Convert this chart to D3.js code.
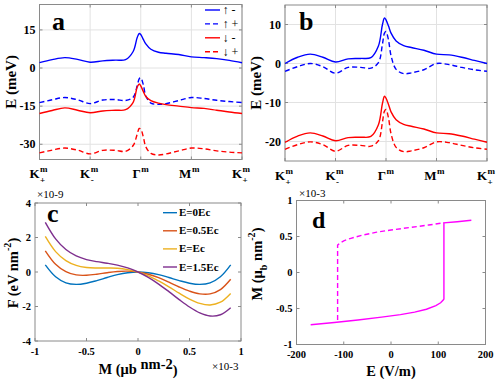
<!DOCTYPE html>
<html>
<head>
<meta charset="utf-8">
<script src="https://cdn.jsdelivr.net/npm/d3@7"></script>
<style>
body { margin: 0; background: #fff; }
svg { display: block; }
text { font-family: "Liberation Serif", "Times New Roman", serif; }
</style>
</head>
<body>
<svg width="498" height="385"></svg>
<script>
// ---- data ----
// panels a & b: band energies along K+ -> K- -> Gamma -> M -> K+ (path coordinate 0..4)
var kPos = [0, 0.25, 0.5, 0.75, 1, 1.25, 1.5, 1.7, 1.85, 1.93, 1.97, 2.0, 2.05, 2.1, 2.2, 2.35, 2.5, 2.75, 3, 3.25, 3.5, 3.75, 4];
var kTickMain = ["K", "K", "\u0393", "M", "K"];
var kTickSub = ["+", "-", "", "", "+"];

var aUpMinus   = [2.1, 3.3, 4.1, 3.4, 2.3, 2.8, 3.1, 3.3, 6.5, 12, 13.6, 13.2, 11.3, 9.5, 7.4, 6.2, 5.8, 5.3, 4.4, 4.1, 3.7, 3.0, 2.1];
var aUpPlus    = [-13.6, -12.5, -11.6, -12.5, -14.0, -12.6, -12.4, -12.8, -11.5, -7, -4.2, -3.9, -6.5, -11, -13.8, -14.3, -14.0, -12.8, -11.6, -12.0, -12.7, -13.2, -13.6];
var aDownMinus = [-17.9, -16.7, -15.7, -16.6, -17.6, -16.9, -16.6, -16.4, -13.5, -7.5, -6.3, -7.0, -9.2, -11.2, -12.8, -13.8, -14.4, -15.0, -15.6, -15.9, -16.6, -17.3, -17.9];
var aDownPlus  = [-33.4, -32.3, -31.5, -32.3, -33.8, -32.4, -32.4, -32.8, -30.5, -26, -23.8, -24.0, -27, -31, -33.6, -34.2, -33.8, -32.6, -31.5, -31.8, -32.6, -33.1, -33.4];

var bUpMinus   = [0, 1.6, 2.4, 1.6, 0.4, 1.2, 1.3, 1.5, 4.5, 10, 11.7, 11.2, 9.6, 7.8, 5.8, 4.6, 4.1, 3.4, 2.4, 2.2, 1.6, 0.8, 0];
var bUpPlus    = [-2, -0.8, 0, -0.8, -2.5, -1.0, -1.0, -1.2, 0.2, 5, 7.8, 8.2, 6.0, 2, -1.5, -2.6, -2.4, -1.6, 0, -0.3, -1.0, -1.6, -2];
var bDownMinus = [-20.2, -18.6, -17.8, -18.6, -19.8, -19.0, -18.9, -18.7, -15.7, -10.2, -8.4, -8.9, -10.5, -12.4, -14.4, -15.6, -16.1, -16.8, -17.8, -18.0, -18.6, -19.4, -20.2];
var bDownPlus  = [-22, -20.8, -20.1, -20.8, -22.5, -21.0, -21.0, -21.2, -19.8, -15, -12.2, -11.8, -14, -18, -21.5, -22.6, -22.4, -21.6, -20.1, -20.3, -21.0, -21.6, -22];

var bandLegend = ["\u2191 -", "\u2191 +", "\u2193 -", "\u2193 +"];

// panel c: free energy F (x1e-9) vs M (x1e-3)
var mVals = [-0.9, -0.8, -0.7, -0.6, -0.5, -0.4, -0.3, -0.2, -0.1, 0, 0.1, 0.2, 0.3, 0.4, 0.5, 0.6, 0.7, 0.8, 0.9];
var fE0   = [0.41, -0.28, -0.63, -0.72, -0.65, -0.50, -0.32, -0.15, -0.04, 0, -0.04, -0.15, -0.32, -0.50, -0.65, -0.72, -0.63, -0.28, 0.41];
var fE05  = [1.23, 0.45, 0.02, -0.17, -0.19, -0.13, -0.04, 0.03, 0.05, 0, -0.13, -0.33, -0.59, -0.87, -1.11, -1.27, -1.27, -1.02, -0.42];
var fE1   = [2.06, 1.18, 0.66, 0.38, 0.26, 0.23, 0.23, 0.22, 0.14, 0, -0.22, -0.52, -0.86, -1.23, -1.57, -1.82, -1.91, -1.75, -1.24];
var fE15  = [2.88, 1.92, 1.30, 0.93, 0.72, 0.60, 0.51, 0.40, 0.24, 0, -0.31, -0.70, -1.14, -1.60, -2.03, -2.37, -2.55, -2.48, -2.07];
var fLegendCoef = ["0", "0.5", "", "1.5"];

// panel d: hysteresis M (x1e-3) vs E (V/m)
var dSolidE = [-170, -120, -70, -20, 20, 50, 75, 95, 105, 111, 112, 112, 140, 170];
var dSolidM = [-0.725, -0.695, -0.66, -0.62, -0.585, -0.55, -0.51, -0.46, -0.42, -0.38, -0.37, 0.69, 0.705, 0.725];
var dDashE = [-113, -113, -108, -100, -85, -60, -30, 0, 40, 80, 112];
var dDashM = [-0.66, 0.38, 0.41, 0.44, 0.475, 0.52, 0.56, 0.59, 0.625, 0.66, 0.69];

// ---- drawing ----
const svg = d3.select("svg");
const boxColor = "#8a8a8a";
const gridColor = "#e2e2e2";
const bandColors = ["#0000ff", "#0000ff", "#ff0000", "#ff0000"];
const bandDash = [null, "5,3", null, "5,3"];
const fColors = ["#0072BD", "#D95319", "#EDB120", "#7E2F8E"];

function axesFrame(x, y, xt, yt, grid) {
    var g = svg.append("g");
    var [x0, x1] = x.range(), [y0, y1] = y.range();
    if (grid) {
        g.selectAll(".gx").data(xt).join("line")
            .attr("x1", d => x(d)).attr("x2", d => x(d))
            .attr("y1", y0).attr("y2", y1)
            .attr("stroke", gridColor).attr("stroke-width", 1);
        g.selectAll(".gy").data(yt).join("line")
            .attr("y1", d => y(d)).attr("y2", d => y(d))
            .attr("x1", x0).attr("x2", x1)
            .attr("stroke", gridColor).attr("stroke-width", 1);
    }
    var t = 3;
    xt.forEach(v => {
        g.append("line").attr("x1", x(v)).attr("x2", x(v)).attr("y1", y0).attr("y2", y0 - t).attr("stroke", boxColor);
        g.append("line").attr("x1", x(v)).attr("x2", x(v)).attr("y1", y1).attr("y2", y1 + t).attr("stroke", boxColor);
    });
    yt.forEach(v => {
        g.append("line").attr("y1", y(v)).attr("y2", y(v)).attr("x1", x0).attr("x2", x0 + t).attr("stroke", boxColor);
        g.append("line").attr("y1", y(v)).attr("y2", y(v)).attr("x1", x1).attr("x2", x1 - t).attr("stroke", boxColor);
    });
    g.append("rect")
        .attr("x", x0).attr("y", y1)
        .attr("width", x1 - x0).attr("height", y0 - y1)
        .attr("fill", "none").attr("stroke", boxColor).attr("stroke-width", 1);
    return g;
}

function yTickLabels(x, y, yt, fs, fmt) {
    svg.append("g").selectAll("text").data(yt).join("text")
        .attr("x", x.range()[0] - 4)
        .attr("y", d => y(d))
        .attr("dy", "0.35em")
        .attr("text-anchor", "end")
        .attr("font-size", fs).attr("font-weight", "bold")
        .text(fmt);
}

function xTickLabels(x, base, xt, fs, fmt) {
    svg.append("g").selectAll("text").data(xt).join("text")
        .attr("x", d => x(d))
        .attr("y", base)
        .attr("text-anchor", "middle")
        .attr("font-size", fs).attr("font-weight", "bold")
        .text(fmt);
}

function kLabels(x, base) {
    var g = svg.append("g").attr("font-weight", "bold");
    [0, 1, 2, 3, 4].forEach(i => {
        g.append("text").attr("x", x(i)).attr("y", base)
            .attr("text-anchor", "end").attr("font-size", 13).text(kTickMain[i]);
        g.append("text").attr("x", x(i) + 0.5).attr("y", base - 6.5)
            .attr("font-size", 9).text("m");
        if (kTickSub[i]) g.append("text").attr("x", x(i) + 0.5).attr("y", base + 4.5)
            .attr("font-size", 9).text(kTickSub[i]);
    });
}

function panelLetter(txt, px, py, fs) {
    svg.append("text").attr("x", px).attr("y", py)
        .attr("font-size", fs).attr("font-weight", "bold").text(txt);
}

function vLabel(px, py, fs, parts) {
    var t = svg.append("text")
        .attr("transform", `translate(${px},${py}) rotate(-90)`)
        .attr("text-anchor", "middle")
        .attr("font-size", fs).attr("font-weight", "bold");
    addParts(t, parts, fs);
}

// text pieces with raised / lowered parts; "back" restores the baseline
function addParts(t, parts, fs) {
    parts.forEach(p => {
        var s = t.append("tspan").text(p.t);
        if (p.sup) s.attr("dy", -fs * 0.45).attr("font-size", fs * 0.7);
        if (p.sub) s.attr("dy", fs * 0.35).attr("font-size", fs * 0.7);
        if (p.back) s.attr("dy", p.back);
    });
}

function bandPanel(x, y, series) {
    var line = d3.line().x((d, i) => x(kPos[i])).y(d => y(d)).curve(d3.curveCatmullRom.alpha(0.5));
    svg.append("g").selectAll("path").data(series).join("path")
        .attr("d", d => line(d))
        .attr("fill", "none")
        .attr("stroke", (d, i) => bandColors[i])
        .attr("stroke-width", 1.4)
        .attr("stroke-dasharray", (d, i) => bandDash[i]);
}

// ---- panel a ----
var xA = d3.scaleLinear().domain([0, 4]).range([39.5, 242]);
var yA = d3.scaleLinear().domain([-36, 25]).range([159.5, 4.5]);
axesFrame(xA, yA, [0, 1, 2, 3, 4], [-30, -15, 0, 15], true);
bandPanel(xA, yA, [aUpMinus, aUpPlus, aDownMinus, aDownPlus]);
yTickLabels(xA, yA, [-30, -15, 0, 15], 12, d => d);
kLabels(xA, 178);
vLabel(16, 82, 15, [{t: "E (meV)"}]);
panelLetter("a", 52, 30, 26);

// legend a
var legA = svg.append("g");
bandLegend.forEach((s, i) => {
    var ly = 10 + i * 13.9;
    legA.append("line").attr("x1", 205).attr("x2", 220).attr("y1", ly).attr("y2", ly)
        .attr("stroke", bandColors[i]).attr("stroke-width", 1.4)
        .attr("stroke-dasharray", bandDash[i]);
    legA.append("text").attr("x", 222.5).attr("y", ly).attr("dy", "0.35em")
        .attr("font-size", 12).text(s);
});

// ---- panel b ----
var xB = d3.scaleLinear().domain([0, 4]).range([285, 487]);
var yB = d3.scaleLinear().domain([-25, 15]).range([161, 5]);
axesFrame(xB, yB, [0, 1, 2, 3, 4], [-20, -10, 0, 10], true);
bandPanel(xB, yB, [bUpMinus, bUpPlus, bDownMinus, bDownPlus]);
yTickLabels(xB, yB, [-20, -10, 0, 10], 12, d => d);
kLabels(xB, 180);
vLabel(261, 83, 15, [{t: "E (meV)"}]);
panelLetter("b", 299, 30, 26);

// ---- panel c ----
var xC = d3.scaleLinear().domain([-1, 1]).range([35, 241]);
var yC = d3.scaleLinear().domain([-4, 4]).range([341, 203]);
axesFrame(xC, yC, [-1, -0.5, 0, 0.5, 1], [-4, -2, 0, 2, 4], false);
var lineC = d3.line().x((d, i) => xC(mVals[i])).y(d => yC(d)).curve(d3.curveCatmullRom.alpha(0.5));
svg.append("g").selectAll("path").data([fE0, fE05, fE1, fE15]).join("path")
    .attr("d", d => lineC(d))
    .attr("fill", "none")
    .attr("stroke", (d, i) => fColors[i])
    .attr("stroke-width", 1.4);
yTickLabels(xC, yC, [-4, -2, 0, 2, 4], 10.5, d => d);
xTickLabels(xC, 355, [-1, -0.5, 0, 0.5, 1], 10.5, d => d);
vLabel(18, 273, 14.5, [{t: "F (eV nm"}, {t: "-2", sup: true}, {t: ")", back: 14.5 * 0.45}]);
var xlC = svg.append("text").attr("x", 138).attr("y", 374).attr("text-anchor", "middle")
    .attr("font-size", 14.5).attr("font-weight", "bold");
addParts(xlC, [{t: "M (\u03bc"}, {t: "b", sub: true}, {t: " nm", back: -14.5 * 0.35}, {t: "-2", sup: true}, {t: ")", back: 14.5 * 0.45}]);
var ec = svg.append("text").attr("x", 37).attr("y", 198).attr("font-size", 11);
addParts(ec, [{t: "\u00d710"}, {t: "-9", sup: true}]);
var ec2 = svg.append("text").attr("x", 212).attr("y", 370).attr("font-size", 11);
addParts(ec2, [{t: "\u00d710"}, {t: "-3", sup: true}]);
panelLetter("c", 47, 222, 26);

// legend c
var legC = svg.append("g");
fLegendCoef.forEach((c, i) => {
    var ly = 212.7 + i * 18.1;
    legC.append("line").attr("x1", 163).attr("x2", 177).attr("y1", ly).attr("y2", ly)
        .attr("stroke", fColors[i]).attr("stroke-width", 1.4);
    var t = legC.append("text").attr("x", 179).attr("y", ly + 3.5)
        .attr("font-size", 11).attr("font-weight", "bold");
    addParts(t, [{t: "E=" + c + "E"}, {t: "c", sub: true}]);
});

// ---- panel d ----
var xD = d3.scaleLinear().domain([-200, 200]).range([296.5, 485.5]);
var yD = d3.scaleLinear().domain([-1, 1]).range([344.5, 200.5]);
axesFrame(xD, yD, [-200, -100, 0, 100, 200], [-1, -0.5, 0, 0.5, 1], false);
var lineD = d3.line().x(d => xD(d[0])).y(d => yD(d[1]));
svg.append("path")
    .attr("d", lineD(dSolidE.map((e, i) => [e, dSolidM[i]])))
    .attr("fill", "none").attr("stroke", "#ff00ff").attr("stroke-width", 1.4);
svg.append("path")
    .attr("d", lineD(dDashE.map((e, i) => [e, dDashM[i]])))
    .attr("fill", "none").attr("stroke", "#ff00ff").attr("stroke-width", 1.4)
    .attr("stroke-dasharray", "5,3");
yTickLabels(xD, yD, [-1, -0.5, 0, 0.5, 1], 10.5, d => d);
xTickLabels(xD, 358, [-200, -100, 0, 100, 200], 10.5, d => d);
vLabel(262, 264, 14.5, [{t: "M (\u03bc"}, {t: "b", sub: true}, {t: " nm", back: -14.5 * 0.35}, {t: "-2", sup: true}, {t: ")", back: 14.5 * 0.45}]);
svg.append("text").attr("x", 391).attr("y", 376).attr("text-anchor", "middle")
    .attr("font-size", 14.5).attr("font-weight", "bold").text("E (V/m)");
var ed = svg.append("text").attr("x", 299).attr("y", 197).attr("font-size", 11);
addParts(ed, [{t: "\u00d710"}, {t: "-3", sup: true}]);
panelLetter("d", 312, 228, 24);
</script>
</body>
</html>
